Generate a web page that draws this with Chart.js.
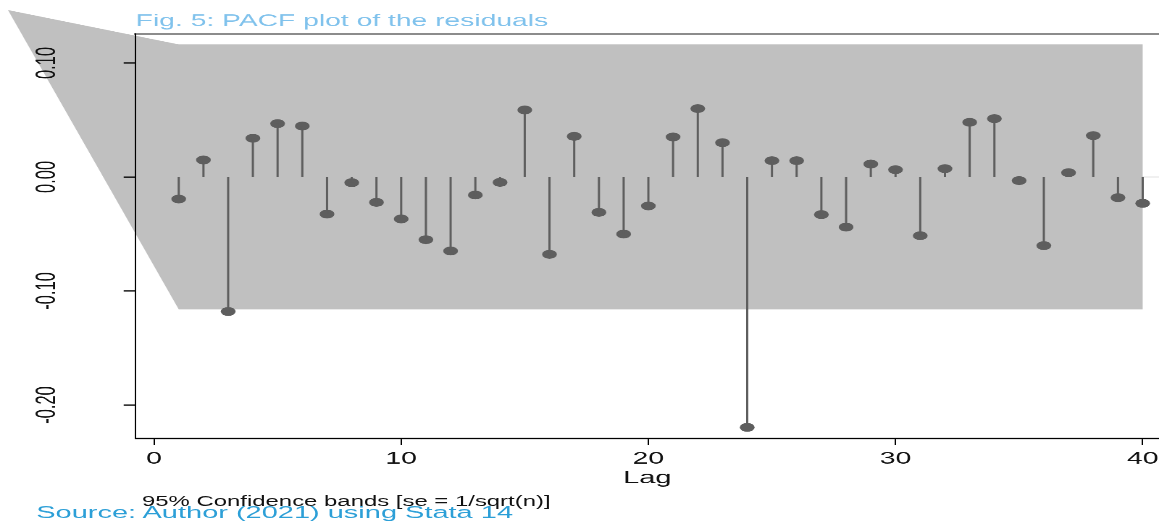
<!DOCTYPE html>
<html>
<head>
<meta charset="utf-8">
<title>Fig. 5: PACF plot of the residuals</title>
<script src="https://cdn.jsdelivr.net/npm/chart.js@4.4.1/dist/chart.umd.min.js"></script>
<style>
    html, body { margin: 0; padding: 0; background: #fff; overflow: hidden; }
    /* the exported Stata figure is stretched wide: draw at 800x600, scale to 1159x521 */
    #stage { position: relative; width: 800px; height: 600px; transform: scale(1.44875, 0.868333); transform-origin: 0 0; }
    #stage canvas { position: absolute; left: 0; top: 0; }
    .note { position: absolute; white-space: nowrap; font-family: 'Liberation Sans', Arial, sans-serif; line-height: 1; }
    #bands { left: 98px; top: 568.8px; font-size: 16.5px; color: #111; }
    #source { left: 25px; top: 580px; font-size: 20px; color: #2c9fd7; }
</style>
</head>
<body>
<div id="stage">
    <canvas id="pacfChart" width="800" height="600"></canvas>
    <div id="bands" class="note">95% Confidence bands [se = 1/sqrt(n)]</div>
    <div id="source" class="note">Source: Author (2021) using Stata 14</div>
</div>
<script>
// --- DATA ---
const lags = [1, 2, 3, 4, 5, 6, 7, 8, 9, 10, 11, 12, 13, 14, 15, 16, 17, 18, 19, 20,
              21, 22, 23, 24, 25, 26, 27, 28, 29, 30, 31, 32, 33, 34, 35, 36, 37, 38, 39, 40];
const pacf = [-0.0193, 0.0149, -0.1180, 0.0340, 0.0468, 0.0447, -0.0325, -0.0050, -0.0222, -0.0368,
              -0.0550, -0.0649, -0.0158, -0.0047, 0.0588, -0.0678, 0.0357, -0.0310, -0.0500, -0.0254,
              0.0351, 0.0600, 0.0301, -0.2196, 0.0143, 0.0143, -0.0330, -0.0439, 0.0114, 0.0064,
              -0.0515, 0.0073, 0.0480, 0.0512, -0.0032, -0.0602, 0.0038, 0.0363, -0.0181, -0.0231];
// confidence band as it came out of the export (odd first vertex included)
const bandLags = [-5.91, 1, 40];
const bandUpper = [0.1465, 0.1163, 0.1163];
const bandLower = [0.1465, -0.1161, -0.1161];
const xTicks = [0, 10, 20, 30, 40];
const yTicks = [0.10, 0.00, -0.10, -0.20];

const FONT = "'Liberation Sans', Arial, sans-serif";
const STEM = '#5e5e5e';

// stems: one broken line, (lag,0) -> (lag,value), gap, next lag
const stemPoints = [];
lags.forEach((lag, i) => {
    stemPoints.push({ x: lag, y: 0 }, { x: lag, y: pacf[i] }, { x: lag, y: null });
});

// band + zero line go under everything, and the band is not clipped to the plot
const bandPlugin = {
    id: 'confBand',
    beforeDraw(chart) {
        const { ctx, chartArea, scales: { x, y } } = chart;
        ctx.save();
        const y0 = y.getPixelForValue(0);
        ctx.strokeStyle = '#e2e2e2';
        ctx.lineWidth = 1.2;
        ctx.beginPath();
        ctx.moveTo(chartArea.left, y0);
        ctx.lineTo(chartArea.right, y0);
        ctx.stroke();

        ctx.fillStyle = '#c0c0c0';
        ctx.beginPath();
        bandLags.forEach((l, i) => {
            const px = x.getPixelForValue(l), py = y.getPixelForValue(bandUpper[i]);
            if (i === 0) ctx.moveTo(px, py); else ctx.lineTo(px, py);
        });
        for (let i = bandLags.length - 1; i >= 0; i--) {
            ctx.lineTo(x.getPixelForValue(bandLags[i]), y.getPixelForValue(bandLower[i]));
        }
        ctx.closePath();
        ctx.fill();
        ctx.restore();
    }
};

new Chart(document.getElementById('pacfChart'), {
    type: 'scatter',
    data: {
        datasets: [
            {
                label: 'stems',
                data: stemPoints,
                showLine: true,
                spanGaps: false,
                borderColor: STEM,
                borderWidth: 1.5,
                pointRadius: 0,
                pointHoverRadius: 0
            },
            {
                label: 'PACF',
                data: lags.map((l, i) => ({ x: l, y: pacf[i] })),
                showLine: false,
                pointRadius: 5.1,
                pointBackgroundColor: STEM,
                pointBorderWidth: 0
            }
        ]
    },
    options: {
        responsive: false,
        devicePixelRatio: 2,
        animation: false,
        layout: { autoPadding: false, padding: { left: 0, right: 0, top: 0, bottom: 37 } },
        plugins: {
            legend: { display: false },
            tooltip: { enabled: false },
            title: {
                display: true,
                text: 'Fig. 5: PACF plot of the residuals',
                align: 'start',
                fullSize: false,
                color: '#80c2ec',
                font: { family: FONT, size: 19.5, weight: 'normal' },
                padding: { top: 12.8, bottom: 3.0 }
            }
        },
        scales: {
            x: {
                type: 'linear',
                min: -0.74,
                max: 40.66,
                afterBuildTicks: s => { s.ticks = xTicks.map(v => ({ value: v })); },
                afterFit: s => { s.height = 58; s.paddingLeft = 0; s.paddingRight = 0; },
                grid: { drawOnChartArea: false, tickLength: 7.5, tickColor: '#000', tickWidth: 1 },
                border: { color: '#000', width: 1.7 },
                ticks: { color: '#111', font: { family: FONT, size: 19.5 }, padding: 4.4, maxRotation: 0, autoSkip: false },
                title: { display: true, text: 'Lag', color: '#111', font: { family: FONT, size: 20 }, padding: 0 }
            },
            xTop: {
                type: 'linear',
                position: 'top',
                min: -0.74,
                max: 40.66,
                grid: { display: false },
                ticks: { display: false },
                border: { color: '#8c8c8c', width: 2 },
                afterFit: s => { s.height = 0; }
            },
            y: {
                min: -0.2294,
                max: 0.1254,
                afterBuildTicks: s => { s.ticks = yTicks.map(v => ({ value: v })); },
                afterFit: s => { s.width = 93.67; s.paddingTop = 0; s.paddingBottom = 0; },
                grid: { drawOnChartArea: false, tickLength: 8.3, tickColor: '#000', tickWidth: 1.5 },
                border: { color: '#000', width: 1 },
                ticks: {
                    color: '#111',
                    font: { family: FONT, size: 19 },
                    padding: 31.2,
                    minRotation: 90,
                    maxRotation: 90,
                    crossAlign: 'center',
                    callback: v => v.toFixed(2)
                }
            }
        }
    },
    plugins: [bandPlugin]
});
</script>
</body>
</html>
